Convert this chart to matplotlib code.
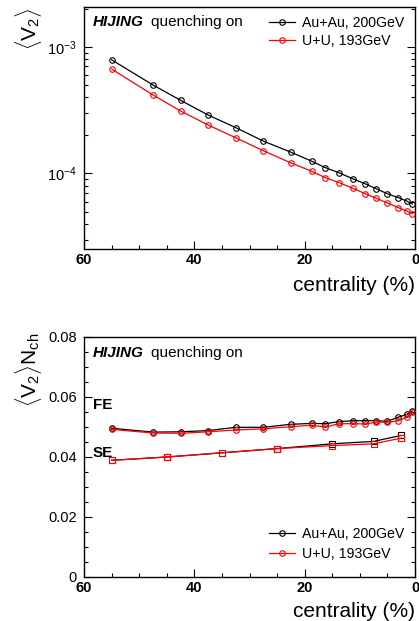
import numpy as np
import matplotlib
matplotlib.use("Agg")
import matplotlib.pyplot as plt
from matplotlib.ticker import MultipleLocator, NullFormatter, FuncFormatter, LogLocator

plt.rcParams['font.family'] = ['Liberation Sans', 'DejaVu Sans']
plt.rcParams['mathtext.fontset'] = 'custom'
plt.rcParams['mathtext.rm'] = 'Liberation Sans'
plt.rcParams['mathtext.it'] = 'Liberation Sans:italic'

# centrality bin centres (%)
cent = [55, 47.5, 42.5, 37.5, 32.5, 27.5, 22.5, 18.75, 16.25, 13.75, 11.25, 9, 7, 5, 3, 1.5, 0.5]
cent_se = [55, 45, 35, 25, 15, 7.5, 2.5]

# <V2>
v2_auau = [7.89e-4, 4.99e-4, 3.78e-4, 2.89e-4, 2.30e-4, 1.80e-4, 1.47e-4, 1.25e-4, 1.11e-4,
           1.01e-4, 9.06e-5, 8.27e-5, 7.56e-5, 6.91e-5, 6.43e-5, 6.05e-5, 5.74e-5]
v2_uu = [6.67e-4, 4.16e-4, 3.11e-4, 2.41e-4, 1.91e-4, 1.51e-4, 1.21e-4, 1.04e-4, 9.25e-5,
         8.45e-5, 7.62e-5, 6.91e-5, 6.35e-5, 5.84e-5, 5.36e-5, 5.05e-5, 4.81e-5]

# <V2>Nch, full event (FE) and sub event (SE)
fe_auau = [0.0495, 0.0482, 0.0483, 0.0487, 0.0498, 0.0498, 0.0508, 0.0511, 0.0510,
           0.0517, 0.0520, 0.0520, 0.0520, 0.0518, 0.0532, 0.0541, 0.0552]
fe_uu = [0.0491, 0.0479, 0.0478, 0.0483, 0.0489, 0.0493, 0.0500, 0.0505, 0.0499,
         0.0510, 0.0510, 0.0509, 0.0515, 0.0515, 0.0520, 0.0532, 0.0549]
se_auau = [0.0388, 0.0399, 0.0413, 0.0427, 0.0443, 0.0451, 0.0471]
se_uu = [0.0388, 0.0399, 0.0413, 0.0427, 0.0437, 0.0443, 0.0462]

labels = ["Au+Au, 200GeV", "U+U, 193GeV"]
colors = ["black", "red"]

fig = plt.figure(figsize=(4.19, 6.21), dpi=100)
W, H = 419.0, 621.0
ax1 = fig.add_axes([84/W, 1-249/H, 331/W, 242/H])
ax2 = fig.add_axes([84/W, 1-576.7/H, 331/W, 240/H])


def style_axis(ax):
    ax.set_xlim(60, 0)
    ax.xaxis.set_major_locator(MultipleLocator(20))
    ax.xaxis.set_minor_locator(MultipleLocator(5))
    ax.tick_params(which='both', direction='in', right=True, top=False)
    ax.tick_params(which='major', length=6, width=0.8)
    ax.tick_params(which='minor', length=3, width=0.8)
    ax.tick_params(axis='x', pad=3, labelsize=10.5)
    ax.tick_params(axis='y', pad=5, labelsize=10.5)
    for lab in ax.get_xticklabels():
        lab.set_fontweight('bold')
    for s in ax.spines.values():
        s.set_linewidth(1.0)
    ax.text(0.027, 0.0, "HIJING", transform=ax.transAxes, fontsize=11,
            fontweight='bold', fontstyle='italic', va='center', ha='left')


# top panel
for y, lab, c in zip([v2_auau, v2_uu], labels, colors):
    ax1.plot(cent, y, '-o', color=c, mfc='none', mec=c, ms=4, mew=0.8, lw=0.9, label=lab)
ax1.set_yscale('log')
ax1.set_ylim(2.53e-5, 2.06e-3)
ax1.yaxis.set_minor_formatter(NullFormatter())
style_axis(ax1)
ax1.texts[-1].set_y(0.938)
ax1.text(0.2024, 0.938, "quenching on", transform=ax1.transAxes, fontsize=11, va='center')
ax1.text(1.0, -0.149, "centrality (%)", transform=ax1.transAxes, fontsize=15,
         ha='right', va='center')
ax1.legend(loc='upper left', bbox_to_anchor=(0.559, 0.962), frameon=False, fontsize=10.2,
           borderpad=0, borderaxespad=0, handlelength=1.83, handletextpad=0.47,
           labelspacing=0.3)
fig.text(28/W, 1-8/H, r"$\langle\mathrm{V}_{2}\rangle$", rotation=90, fontsize=15,
         ha='center', va='top')

# bottom panel
for yf, ys, lab, c in zip([fe_auau, fe_uu], [se_auau, se_uu], labels, colors):
    ax2.plot(cent, yf, '-o', color=c, mfc='none', mec=c, ms=4, mew=0.8, lw=0.9, label=lab)
    ax2.plot(cent_se, ys, '-s', color=c, mfc='none', mec=c, ms=4.5, mew=0.8, lw=0.9)
ax2.set_ylim(0, 0.08)
ax2.yaxis.set_major_locator(MultipleLocator(0.02))
ax2.yaxis.set_minor_locator(MultipleLocator(0.005))
ax2.yaxis.set_major_formatter(FuncFormatter(lambda v, p: "0" if abs(v) < 1e-9 else "%.2f" % v))
style_axis(ax2)
ax2.texts[-1].set_y(0.932)
ax2.text(0.2024, 0.932, "quenching on", transform=ax2.transAxes, fontsize=11, va='center')
ax2.text(58.4, 0.0572, "FE", fontsize=11, fontweight='bold', va='center', ha='left')
ax2.text(58.4, 0.0411, "SE", fontsize=11, fontweight='bold', va='center', ha='left')
ax2.text(1.0, -0.143, "centrality (%)", transform=ax2.transAxes, fontsize=15,
         ha='right', va='center')
ax2.legend(loc='upper left', bbox_to_anchor=(0.559, 0.207), frameon=False, fontsize=10.2,
           borderpad=0, borderaxespad=0, handlelength=1.83, handletextpad=0.47,
           labelspacing=0.4)
fig.text(28/W, 1-333/H, r"$\langle\mathrm{V}_{2}\rangle\mathrm{N}_{\mathrm{ch}}$", rotation=90,
         fontsize=15, ha='center', va='top')

fig.savefig("out.png", dpi=100)
